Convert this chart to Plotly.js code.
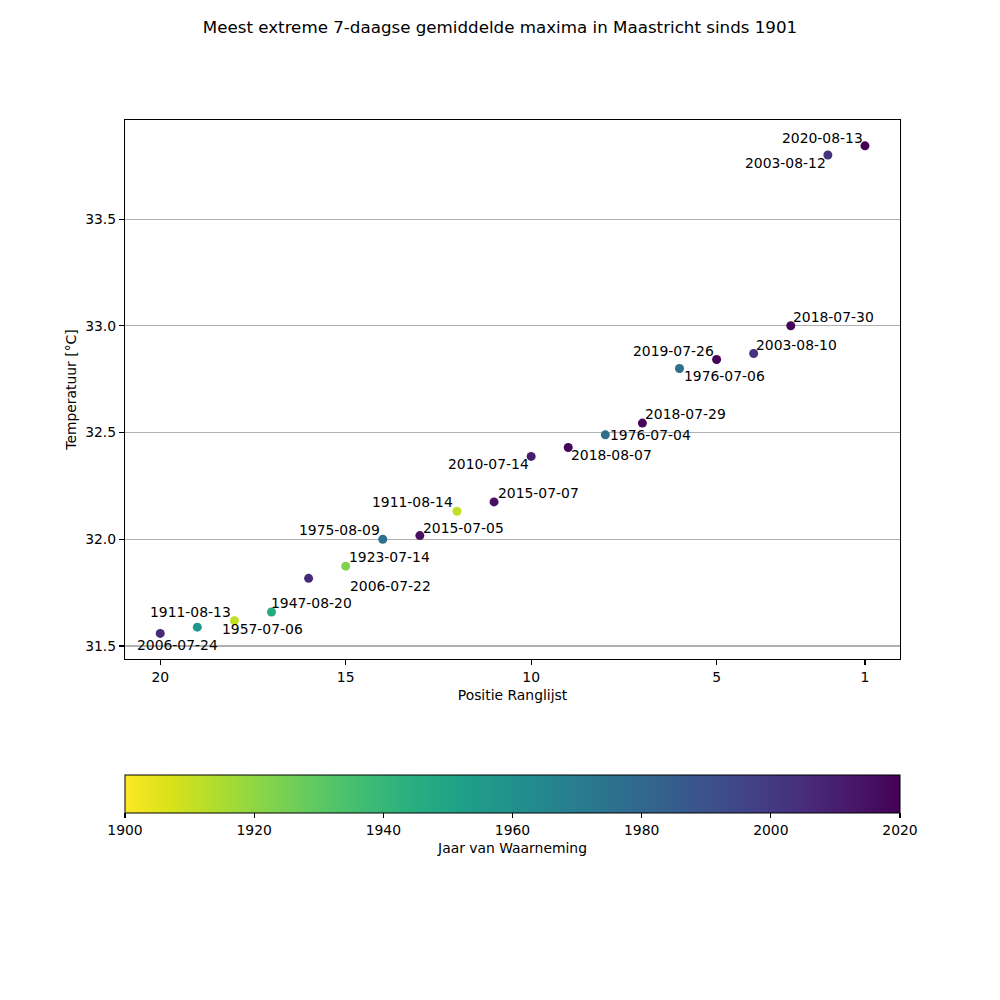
<!DOCTYPE html>
<html>
<head>
<meta charset="utf-8">
<script src="https://cdn.plot.ly/plotly-3.0.1.min.js"></script>
<style>html,body{margin:0;padding:0;background:#fff}#chart{width:1000px;height:1000px}</style>
</head>
<body>
<div id="chart"></div>
<script>
// Position in ranking (1 = most extreme)
const ranks = [1, 2, 3, 4, 5, 6, 7, 8, 9, 10, 11, 12, 13, 14, 15, 16, 17, 18, 19, 20];
// 7-day mean maximum temperature [°C]
const temps = [33.843, 33.800, 33.000, 32.870, 32.842, 32.800, 32.544, 32.489, 32.430, 32.388,
               32.175, 32.131, 32.017, 32.000, 31.874, 31.817, 31.659, 31.618, 31.588, 31.559];
// Date of observation (label)
const dates = ["2020-08-13", "2003-08-12", "2018-07-30", "2003-08-10", "2019-07-26", "1976-07-06",
               "2018-07-29", "1976-07-04", "2018-08-07", "2010-07-14", "2015-07-07", "1911-08-14",
               "2015-07-05", "1975-08-09", "1923-07-14", "2006-07-22", "1947-08-20", "1911-08-13",
               "1957-07-06", "2006-07-24"];
// Year of observation (colour)
const years = [2020, 2003, 2018, 2003, 2019, 1976, 2018, 1976, 2018, 2010, 2015, 1911,
               2015, 1975, 1923, 2006, 1947, 1911, 1957, 2006];
const xTicks = [20, 15, 10, 5, 1];
const yTicks = [31.5, 32.0, 32.5, 33.0, 33.5];
const cbTicks = [1900, 1920, 1940, 1960, 1980, 2000, 2020];

// label placement (anchor side, pixel shifts) — styling only
const labelPlacement = [
  ["right", -2, 8], ["right", -2, -8], ["left", 2, 9], ["left", 2, 9], ["right", -3, 9],
  ["left", 4, -8], ["left", 3, 9], ["left", 5, 0], ["left", 3, -8], ["right", -2, -8],
  ["left", 4, 9], ["right", -4, 9], ["left", 3, 8], ["right", -3, 9], ["left", 3, 9],
  ["left", 41, -8], ["left", -1, 9], ["right", -3, 9], ["left", 25, -2], ["left", -23, -12]
];

const FONT = "DejaVu Sans, sans-serif";
const FS = 13.9;

const trace = {
  type: "scatter",
  mode: "markers",
  x: ranks,
  y: temps,
  text: dates,
  marker: {
    size: 9,
    color: years,
    colorscale: "Viridis",
    reversescale: true,
    cmin: 1900,
    cmax: 2020,
    line: {width: 0},
    colorbar: {
      orientation: "h",
      x: 0.5, xanchor: "center",
      y: -0.215, yanchor: "top",
      len: 1, lenmode: "fraction",
      thickness: 38, thicknessmode: "pixels",
      xpad: 0, ypad: 0,
      outlinewidth: 1, outlinecolor: "#000",
      ticks: "outside", ticklen: 5, tickwidth: 1.1, tickcolor: "#000",
      tickvals: cbTicks, ticktext: cbTicks.map(String),
      tickfont: {family: FONT, size: FS, color: "#000"},
      title: {text: "Jaar van Waarneming", side: "bottom", font: {family: FONT, size: FS, color: "#000"}}
    }
  },
  hoverinfo: "x+y+text",
  showlegend: false
};

const annotations = dates.map((d, i) => ({
  x: ranks[i], y: temps[i], xref: "x", yref: "y",
  text: d, showarrow: false,
  xanchor: labelPlacement[i][0], yanchor: "middle",
  xshift: labelPlacement[i][1], yshift: labelPlacement[i][2],
  borderpad: 0, borderwidth: 0,
  font: {family: FONT, size: FS, color: "#000"}
}));

const layout = {
  width: 1000, height: 1000,
  paper_bgcolor: "#fff", plot_bgcolor: "#fff",
  margin: {l: 125, r: 100, t: 120, b: 341},
  font: {family: FONT, size: FS, color: "#000"},
  title: {
    text: "Meest extreme 7-daagse gemiddelde maxima in Maastricht sinds 1901",
    x: 0.5, xref: "container", xanchor: "center",
    y: 0.973, yref: "container", yanchor: "middle",
    font: {family: FONT, size: 16.7, color: "#000"}
  },
  xaxis: {
    range: [20.95, 0.055],
    tickvals: xTicks, ticktext: xTicks.map(String),
    ticks: "outside", ticklen: 5, tickwidth: 1.1, tickcolor: "#000",
    showgrid: false, zeroline: false,
    showline: true, mirror: true, linecolor: "#000", linewidth: 1.1,
    tickfont: {family: FONT, size: FS, color: "#000"},
    title: {text: "Positie Ranglijst", standoff: 6, font: {family: FONT, size: FS, color: "#000"}},
    automargin: false
  },
  yaxis: {
    range: [31.439, 33.964],
    tickvals: yTicks, ticktext: yTicks.map(v => v.toFixed(1)),
    ticks: "outside", ticklen: 5, tickwidth: 1.1, tickcolor: "#000",
    showgrid: true, gridcolor: "#b0b0b0", gridwidth: 1.1, zeroline: false,
    showline: true, mirror: true, linecolor: "#000", linewidth: 1.1,
    tickfont: {family: FONT, size: FS, color: "#000"},
    title: {text: "Temperatuur [°C]", standoff: 5, font: {family: FONT, size: FS, color: "#000"}},
    automargin: false
  },
  annotations: annotations
};

Plotly.newPlot("chart", [trace], layout, {displayModeBar: false, staticPlot: true});
</script>
</body>
</html>
